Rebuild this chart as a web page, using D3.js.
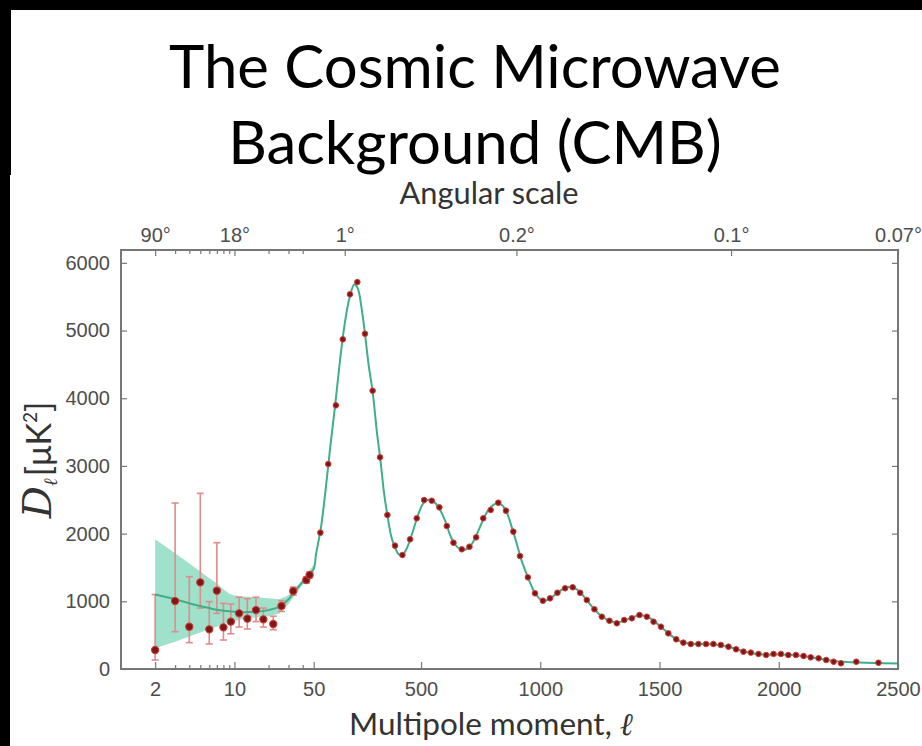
<!DOCTYPE html>
<html><head><meta charset="utf-8">
<script src="https://cdn.jsdelivr.net/npm/d3@7"></script>
<style>html,body{margin:0;padding:0;background:#fff;overflow:hidden}</style>
</head><body>
<script>
// ---------- data ----------
const titleLines = ["The Cosmic Microwave", "Background (CMB)"];
const yTicks = [0, 1000, 2000, 3000, 4000, 5000, 6000];
const xLogTicks = [2, 10];
const xLogMinor = [3, 4, 5, 6, 7, 8, 9, 20, 30, 40];
const xLinTicks = [50, 500, 1000, 1500, 2000, 2500];
const topLogTicks = [2, 10];
const topLogLabels = ["90°", "18°"];
const topLinTicks = [180, 900, 1800, 2500];
const topLinLabels = ["1°", "0.2°", "0.1°", "0.07°"];

// low-ell points with error bars
const lowEll = [2, 3, 4, 5, 6, 7, 8, 9.3, 11, 13, 15.5, 18, 22, 26, 33, 43, 46];
const lowD   = [281, 1004, 625, 1280, 586, 1157, 615, 699, 822, 744, 871, 734, 665, 931, 1152, 1315, 1389];
const lowHi  = [1100, 2452, 1364, 2595, 995, 1866, 970, 960, 1060, 1040, 1060, 900, 780, 1010, 1210, 1360, 1430];
const lowLo  = [133, 551, 389, 900, 369, 822, 428, 520, 620, 590, 700, 620, 580, 850, 1090, 1270, 1350];

// binned high-ell points
const highEll = [78, 111, 143, 172, 202, 233, 265, 297, 328, 359, 391, 422, 454, 482, 513, 545, 577, 608, 636, 671, 703, 731, 761, 792, 824, 856, 887, 915, 948, 978, 1011, 1041, 1072, 1104, 1136, 1167, 1195, 1227, 1258, 1290, 1321, 1352, 1384, 1416, 1447, 1475, 1506, 1537, 1570, 1600, 1631, 1663, 1695, 1726, 1757, 1789, 1821, 1852, 1883, 1915, 1947, 1978, 2009, 2040, 2072, 2104, 2134, 2167, 2199, 2230, 2261, 2325, 2418];
const highD   = [2014, 3028, 3895, 4870, 5535, 5716, 4953, 4111, 3127, 2275, 1822, 1684, 1916, 2226, 2496, 2486, 2388, 2112, 1866, 1768, 1807, 1945, 2226, 2349, 2457, 2339, 2029, 1669, 1354, 1118, 1009, 1044, 1127, 1192, 1207, 1127, 1019, 882, 773, 713, 675, 724, 749, 798, 773, 699, 625, 527, 439, 389, 369, 369, 369, 369, 355, 330, 291, 256, 242, 222, 207, 222, 222, 207, 207, 192, 172, 158, 133, 108, 84, 108, 93];

// best-fit model curve
const modelEll = [2, 3, 4, 5, 6, 7, 8, 10, 12, 15, 20, 25, 30, 35, 40, 45, 50, 60, 80, 100, 120, 140, 160, 180, 200, 220, 235, 250, 265, 280, 297, 315, 330, 345, 360, 375, 390, 405, 420, 440, 455, 470, 490, 510, 530, 550, 575, 600, 620, 640, 665, 690, 710, 730, 750, 770, 795, 820, 840, 860, 880, 900, 920, 950, 975, 1000, 1020, 1045, 1070, 1100, 1130, 1160, 1190, 1220, 1250, 1280, 1310, 1340, 1370, 1400, 1430, 1460, 1490, 1520, 1550, 1580, 1610, 1650, 1700, 1750, 1790, 1830, 1870, 1910, 1950, 2000, 2050, 2100, 2150, 2200, 2250, 2300, 2400, 2500];
const modelD   = [1100, 1030, 970, 930, 900, 875, 860, 845, 840, 845, 870, 920, 1030, 1170, 1290, 1390, 1480, 1700, 2080, 2650, 3300, 3900, 4550, 5100, 5480, 5680, 5620, 5350, 4950, 4500, 4100, 3500, 3080, 2600, 2250, 1960, 1800, 1700, 1680, 1780, 1920, 2080, 2300, 2450, 2500, 2480, 2380, 2200, 2000, 1850, 1770, 1770, 1830, 1960, 2120, 2280, 2400, 2450, 2420, 2310, 2100, 1870, 1620, 1340, 1140, 1030, 1010, 1050, 1120, 1190, 1210, 1160, 1040, 910, 800, 730, 690, 700, 740, 780, 790, 750, 670, 580, 490, 420, 385, 370, 368, 355, 330, 285, 245, 220, 210, 215, 210, 192, 165, 135, 110, 100, 88, 80];

// cosmic-variance band at low ell
const bandEll = [2, 3, 4, 5, 6, 7, 8, 9, 10, 12, 15, 20, 25, 30, 40, 50];
const bandHi  = [1916, 1709, 1560, 1440, 1340, 1265, 1180, 1110, 1085, 1070, 1060, 1045, 1030, 1090, 1320, 1540];
const bandLo  = [306, 404, 480, 540, 590, 625, 660, 690, 710, 740, 760, 780, 820, 960, 1250, 1420];

// ---------- drawing ----------
const W = 922, H = 746;
const svg = d3.select("body").append("svg").attr("width", W).attr("height", H);
svg.append("rect").attr("width", W).attr("height", H).attr("fill", "#fff");
svg.append("rect").attr("x", 0).attr("y", 0).attr("width", W).attr("height", 10).attr("fill", "#000");
svg.append("rect").attr("x", 0).attr("y", 0).attr("width", 11).attr("height", 175).attr("fill", "#000");
svg.append("rect").attr("x", 0).attr("y", 175).attr("width", 10).attr("height", H - 175).attr("fill", "#000");

function fitText(sel, target) {
  const w = sel.node().getComputedTextLength();
  const fs = parseFloat(sel.attr("font-size"));
  sel.attr("font-size", fs * target / w);
}

// title
const t1 = svg.append("text").attr("x", 475).attr("y", 88).attr("text-anchor", "middle")
  .attr("font-family", "Lato, 'Open Sans', sans-serif").attr("font-size", 60).attr("fill", "#000").text(titleLines[0]);
fitText(t1, 612);
svg.append("text").attr("x", 475).attr("y", 164).attr("text-anchor", "middle")
  .attr("font-family", "Lato, 'Open Sans', sans-serif").attr("font-size", t1.attr("font-size")).attr("fill", "#000").text(titleLines[1]);

const L = 121, R = 898, T = 250, B = 669;
const xLog = d3.scaleLog().domain([1, 50]).range([L, 313.7]);
const xLin = d3.scaleLinear().domain([50, 2500]).range([313.7, R]);
const x = l => (l <= 50 ? xLog(l) : xLin(l));
const y = d3.scaleLinear().domain([0, 6190]).range([B, T]);

const tickFont = "'Liberation Sans', Arial, sans-serif";
const tickColor = "#4d4d4d";
function styleAxis(g) {
  g.select(".domain").remove();
  g.selectAll(".tick line").attr("stroke", "#777").attr("stroke-width", 1.2);
  g.selectAll(".tick text").attr("font-family", tickFont).attr("font-size", 20).attr("fill", tickColor);
}

// band
const bandData = bandEll.map((l, i) => ({ l, hi: bandHi[i], lo: bandLo[i] }));
svg.append("path").datum(bandData)
  .attr("d", d3.area().x(d => x(d.l)).y0(d => y(d.lo)).y1(d => y(d.hi)))
  .attr("fill", "#8edcc2").attr("fill-opacity", 0.85);

// error bars
const lowData = lowEll.map((l, i) => ({ l, d: lowD[i], hi: lowHi[i], lo: lowLo[i] }));
const eb = svg.append("g").attr("stroke", "#e08c8c").attr("stroke-width", 1.6);
lowData.forEach(p => {
  eb.append("line").attr("x1", x(p.l)).attr("x2", x(p.l)).attr("y1", y(p.lo)).attr("y2", y(p.hi));
  eb.append("line").attr("x1", x(p.l) - 3.5).attr("x2", x(p.l) + 3.5).attr("y1", y(p.lo)).attr("y2", y(p.lo));
  eb.append("line").attr("x1", x(p.l) - 3.5).attr("x2", x(p.l) + 3.5).attr("y1", y(p.hi)).attr("y2", y(p.hi));
});

// model curve
const modelData = modelEll.map((l, i) => ({ l, d: modelD[i] }));
svg.append("path").datum(modelData)
  .attr("d", d3.line().x(d => x(d.l)).y(d => y(d.d)).curve(d3.curveCatmullRom.alpha(0.5)))
  .attr("fill", "none").attr("stroke", "#3fae8a").attr("stroke-width", 2);

// points
svg.append("g").selectAll("circle").data(lowData).join("circle")
  .attr("cx", d => x(d.l)).attr("cy", d => y(d.d)).attr("r", 3.6)
  .attr("fill", "#7e1717").attr("stroke", "#cf3b34").attr("stroke-width", 1.1);
const highData = highEll.map((l, i) => ({ l, d: highD[i] }));
svg.append("g").selectAll("circle").data(highData).join("circle")
  .attr("cx", d => x(d.l)).attr("cy", d => y(d.d)).attr("r", 2.8)
  .attr("fill", "#7e1717").attr("stroke", "#d4413a").attr("stroke-width", 1);

// axes
const yl = svg.append("g").attr("transform", `translate(${L},0)`)
  .call(d3.axisLeft(y).tickValues(yTicks).tickSizeInner(-6).tickSizeOuter(0).tickPadding(11).tickFormat(d3.format("d")));
styleAxis(yl);
const yr = svg.append("g").attr("transform", `translate(${R},0)`)
  .call(d3.axisRight(y).tickValues(yTicks).tickSizeInner(-6).tickSizeOuter(0).tickFormat(""));
styleAxis(yr);

const bLog = svg.append("g").attr("transform", `translate(0,${B})`)
  .call(d3.axisBottom(xLog).tickValues(xLogTicks).tickSizeInner(-7).tickSizeOuter(0).tickPadding(13).tickFormat(d3.format("d")));
styleAxis(bLog);
const bLogMinor = svg.append("g").attr("transform", `translate(0,${B})`)
  .call(d3.axisBottom(xLog).tickValues(xLogMinor).tickSizeInner(-4).tickSizeOuter(0).tickFormat(""));
styleAxis(bLogMinor);
const bLin = svg.append("g").attr("transform", `translate(0,${B})`)
  .call(d3.axisBottom(xLin).tickValues(xLinTicks).tickSizeInner(-7).tickSizeOuter(0).tickPadding(13).tickFormat(d3.format("d")));
styleAxis(bLin);

const tLog = svg.append("g").attr("transform", `translate(0,${T})`)
  .call(d3.axisTop(xLog).tickValues(topLogTicks).tickSizeInner(-6).tickSizeOuter(0).tickPadding(8).tickFormat((d, i) => topLogLabels[i]));
styleAxis(tLog);
const tLogMinor = svg.append("g").attr("transform", `translate(0,${T})`)
  .call(d3.axisTop(xLog).tickValues(xLogMinor).tickSizeInner(-4).tickSizeOuter(0).tickFormat(""));
styleAxis(tLogMinor);
const tLin = svg.append("g").attr("transform", `translate(0,${T})`)
  .call(d3.axisTop(xLin).tickValues(topLinTicks).tickSizeInner(-6).tickSizeOuter(0).tickPadding(8).tickFormat((d, i) => topLinLabels[i]));
styleAxis(tLin);

// frame
svg.append("rect").attr("x", L).attr("y", T).attr("width", R - L).attr("height", B - T)
  .attr("fill", "none").attr("stroke", "#777").attr("stroke-width", 2);

// axis titles
const at = svg.append("text").attr("x", 489).attr("y", 204).attr("text-anchor", "middle")
  .attr("font-family", "Lato, 'Open Sans', sans-serif").attr("font-size", 26).attr("fill", "#333").text("Angular scale");
fitText(at, 179);
const xt = svg.append("text").attr("x", 491).attr("y", 735).attr("text-anchor", "middle")
  .attr("font-family", "Lato, 'Open Sans', sans-serif").attr("font-size", 28).attr("fill", "#333");
xt.append("tspan").text("Multipole moment, ");
xt.append("tspan").attr("font-family", "'DejaVu Serif', serif").attr("font-style", "italic").text("ℓ");
fitText(xt, 284);

const ytl = svg.append("text").attr("transform", "translate(51,460) rotate(-90)").attr("text-anchor", "middle")
  .attr("font-family", "Lato, 'Open Sans', sans-serif").attr("font-size", 34).attr("fill", "#333");
ytl.append("tspan").attr("font-family", "'DejaVu Serif', serif").attr("font-style", "italic").attr("font-size", 40).text("D");
ytl.append("tspan").attr("font-family", "'DejaVu Serif', serif").attr("font-style", "italic").attr("font-size", 19).attr("dy", 6).text("ℓ");
ytl.append("tspan").attr("dy", -6).attr("dx", 2).text("[μK");
ytl.append("tspan").attr("font-size", 19).attr("dy", -14).text("2");
ytl.append("tspan").attr("dy", 14).text("]");
</script>
</body></html>
